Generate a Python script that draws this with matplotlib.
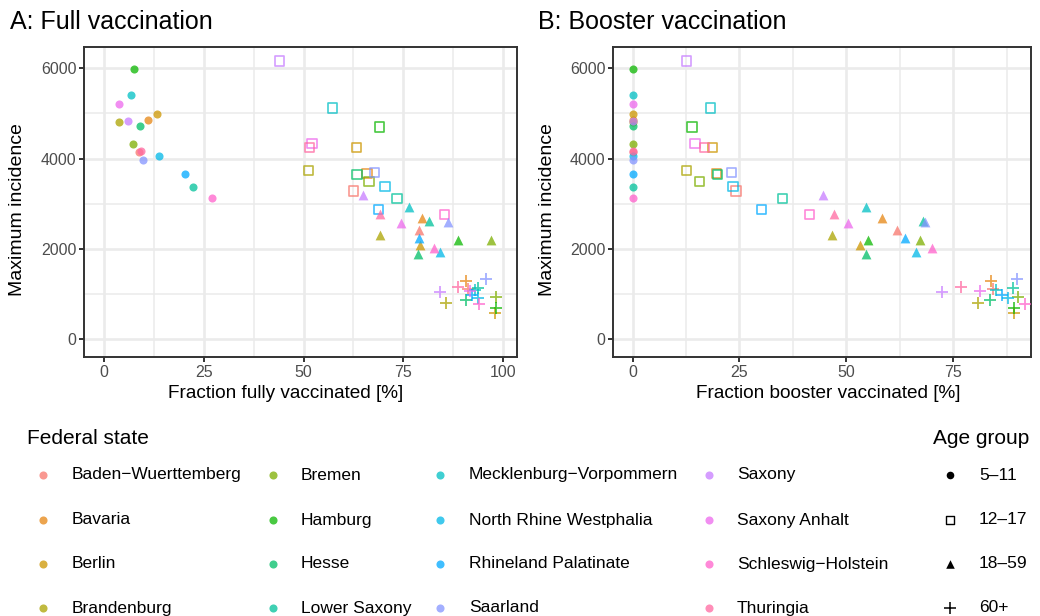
import numpy as np
import matplotlib
matplotlib.use('Agg')
import matplotlib.pyplot as plt

matplotlib.rcParams['font.family'] = ['Liberation Sans', 'DejaVu Sans']

# data
states = ['Baden−Wuerttemberg', 'Bavaria', 'Berlin', 'Brandenburg', 'Bremen', 'Hamburg',
          'Hesse', 'Lower Saxony', 'Mecklenburg−Vorpommern', 'North Rhine Westphalia',
          'Rhineland Palatinate', 'Saarland', 'Saxony', 'Saxony Anhalt',
          'Schleswig−Holstein', 'Thuringia']
age_groups = ['5–11', '12–17', '18–59', '60+']

full_5_11 = [8.7, 10.9, 13.3, 3.6, 7.2, 7.4, 8.9, 22.4, 6.7, 13.7, 20.3, 9.8, 5.9, 3.7, 27.0, 9.2]
full_12_17 = [62.6, 65.9, 63.2, 51.2, 66.4, 69.0, 63.4, 73.4, 57.2, 70.4, 68.8, 67.8, 43.9, 52.1, 85.4, 51.5]
full_18_59 = [79.0, 79.8, 79.2, 69.2, 97.1, 88.6, 78.6, 81.4, 76.5, 84.2, 78.9, 86.3, 64.9, 74.3, 82.6, 69.2]
full_60 = [91.2, 90.7, 98.1, 85.6, 98.3, 98.3, 90.6, 93.8, 93.0, 93.8, 92.3, 95.8, 84.1, 91.6, 94.0, 88.7]

boost_5_11 = [0, 0, 0, 0, 0, 0, 0, 0, 0, 0, 0, 0, 0, 0, 0, 0]
boost_12_17 = [24.2, 19.7, 18.7, 12.7, 15.6, 13.9, 19.9, 35.1, 18.2, 23.5, 30.1, 23.1, 12.7, 14.6, 41.4, 16.8]
boost_18_59 = [61.9, 58.4, 53.2, 46.7, 67.2, 55.1, 54.6, 68.0, 54.6, 66.2, 63.7, 68.3, 44.6, 50.5, 70.0, 47.1]
boost_60 = [84.3, 83.8, 89.2, 80.7, 90.2, 89.2, 83.6, 89.0, 85.1, 87.9, 86.4, 90.0, 72.3, 81.2, 91.9, 76.8]

inc_5_11 = [4140, 4860, 4980, 4810, 4330, 5970, 4720, 3380, 5410, 4050, 3660, 3965, 4835, 5210, 3125, 4170]
inc_12_17 = [3280, 3670, 4250, 3730, 3500, 4695, 3655, 3125, 5115, 3375, 2865, 3685, 6155, 4325, 2770, 4245]
inc_18_59 = [2425, 2695, 2080, 2305, 2190, 2205, 1895, 2630, 2938, 1925, 2235, 2600, 3195, 2565, 2018, 2770]
inc_60 = [1125, 1290, 580, 815, 940, 700, 870, 1140, 1090, 920, 990, 1345, 1050, 1080, 780, 1155]

full = [full_5_11, full_12_17, full_18_59, full_60]
boost = [boost_5_11, boost_12_17, boost_18_59, boost_60]
inc = [inc_5_11, inc_12_17, inc_18_59, inc_60]


def hcl(h, c=100, l=65):
    # polar LUV -> sRGB, same as R's hcl()
    xn, yn, zn = 95.047, 100.0, 108.883
    h = np.deg2rad(h)
    u, v = c * np.cos(h), c * np.sin(h)
    y = yn * ((l + 16) / 116) ** 3 if l > 7.999592 else yn * l / 903.3
    t = xn + 15 * yn + 3 * zn
    un, vn = 4 * xn / t, 9 * yn / t
    q = u / (13 * l) + un
    r = v / (13 * l) + vn
    x = 9.0 * y * q / (4.0 * r)
    z = -x / 3 - 5 * y + 3 * y / r
    x, y, z = x / 100, y / 100, z / 100
    rgb = [3.240479 * x - 1.537150 * y - 0.498535 * z,
           -0.969256 * x + 1.875992 * y + 0.041556 * z,
           0.055648 * x - 0.204043 * y + 1.057311 * z]
    out = []
    for k in rgb:
        k = 1.055 * k ** (1 / 2.4) - 0.055 if k > 0.00304 else 12.92 * k
        out.append(min(max(k, 0), 1))
    return tuple(out)


hues = np.linspace(15, 375, len(states) + 1)[:-1]
colors = [hcl(h) for h in hues]

ALPHA = 0.75
markers = ['o', 's', '^', '+']
msize = [34, 44, 50, 85]

fig = plt.figure(figsize=(10.4, 6.16), dpi=100)

W, H = 1040, 616


def px_axes(l, t, r, b):
    return fig.add_axes([l / W, 1 - b / H, (r - l) / W, (b - t) / H])


def style_axis(ax, xmajor, xminor):
    ax.set_facecolor('white')
    for s in ax.spines.values():
        s.set_color('#333333')
        s.set_linewidth(1.4)
    ax.set_xticks(xmajor)
    ax.set_xticks(xminor, minor=True)
    ax.set_yticks([0, 2000, 4000, 6000])
    ax.set_yticks([1000, 3000, 5000], minor=True)
    ax.grid(True, which='major', color='#EBEBEB', lw=1.9)
    ax.grid(True, which='minor', color='#EBEBEB', lw=1.1)
    ax.set_axisbelow(True)
    ax.tick_params(which='major', length=3.5, width=1.4, color='#333333',
                   labelsize=11.5, labelcolor='#4D4D4D', pad=2)
    ax.tick_params(which='minor', length=0)
    ax.set_ylim(-387, 6465)


def draw_points(ax, xs_list):
    for g in range(4):
        xs = xs_list[g]
        ys = inc[g]
        for i in range(len(states)):
            c = colors[i]
            if markers[g] == 's':
                ax.scatter(xs[i], ys[i], s=msize[g], marker='s', facecolors='none',
                           edgecolors=[c + (ALPHA,)], linewidths=1.2, zorder=3)
            elif markers[g] == '+':
                ax.scatter(xs[i], ys[i], s=msize[g], marker='+', color=[c + (ALPHA,)],
                           linewidths=1.3, zorder=3)
            else:
                ax.scatter(xs[i], ys[i], s=msize[g], marker=markers[g], color=[c + (ALPHA,)],
                           linewidths=0, zorder=3)


ax1 = px_axes(84, 47, 517, 357)
style_axis(ax1, [0, 25, 50, 75, 100], [12.5, 37.5, 62.5, 87.5])
ax1.set_xlim(-5.05, 103.5)
draw_points(ax1, full)

ax2 = px_axes(613, 47, 1031, 357)
style_axis(ax2, [0, 25, 50, 75], [12.5, 37.5, 62.5, 87.5])
ax2.set_xlim(-4.58, 93.2)
draw_points(ax2, boost)


# titles and axis labels (placed in figure pixels)
def ftext(x, y, s, **kw):
    fig.text(x / W, 1 - y / H, s, **kw)


ftext(10, 22, 'A: Full vaccination', fontsize=18, ha='left', va='center')
ftext(538, 22, 'B: Booster vaccination', fontsize=18, ha='left', va='center')
ftext(286, 393, 'Fraction fully vaccinated [%]', fontsize=13.7, ha='center', va='center')
ftext(828, 393, 'Fraction booster vaccinated [%]', fontsize=13.7, ha='center', va='center')
ftext(18, 210, 'Maximum incidence', fontsize=14, ha='center', va='center', rotation=90)
ftext(547, 210, 'Maximum incidence', fontsize=14, ha='center', va='center', rotation=90)

# legends
leg = fig.add_axes([0, 0, 1, 1], facecolor='none')
leg.set_xlim(0, W)
leg.set_ylim(H, 0)
leg.axis('off')

ftext(27, 438, 'Federal state', fontsize=15, ha='left', va='center')
col_key = [43, 273, 440, 709]
col_txt = [72, 301, 469, 737]
row_y = [475, 520, 564, 608]
for i, name in enumerate(states):
    col, row = i // 4, i % 4
    leg.scatter(col_key[col], row_y[row], s=34, marker='o', color=[colors[i] + (ALPHA,)],
                linewidths=0, clip_on=False)
    ftext(col_txt[col], row_y[row], name, fontsize=12.5, ha='left', va='center')

ftext(933, 438, 'Age group', fontsize=15, ha='left', va='center')
for g, name in enumerate(age_groups):
    if markers[g] == 's':
        leg.scatter(950, row_y[g], s=32, marker='s', facecolors='none', edgecolors='black',
                    linewidths=1.0, clip_on=False)
    elif markers[g] == '+':
        leg.scatter(950, row_y[g], s=70, marker='+', color='black', linewidths=1.1, clip_on=False)
    else:
        leg.scatter(950, row_y[g], s=30 if g == 0 else 38, marker=markers[g], color='black',
                    linewidths=0, clip_on=False)
    ftext(979, row_y[g], name, fontsize=12.5, ha='left', va='center')

plt.savefig('out.png', dpi=100)
